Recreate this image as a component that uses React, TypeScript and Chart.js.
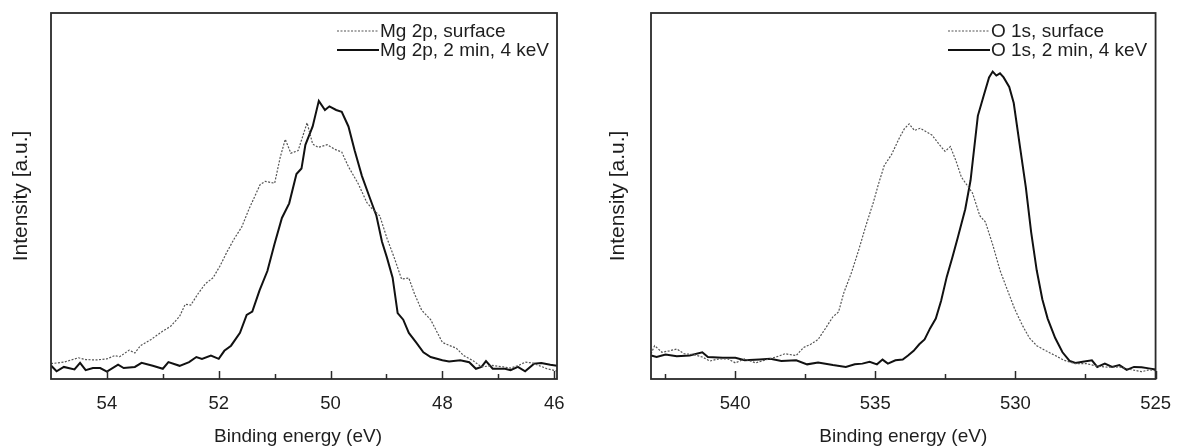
import React, { useEffect, useRef } from "react";
import { Chart, registerables } from "chart.js";

Chart.register(...registerables);

// ---------- Data: Mg 2p (left panel) ----------
const MG_SOLID_E = [55.0, 54.9, 54.77, 54.58, 54.48, 54.38, 54.25, 54.12, 54.0, 53.8, 53.7, 53.5, 53.38, 53.18, 53.0, 52.9, 52.7, 52.53, 52.4, 52.3, 52.14, 52.0, 51.9, 51.78, 51.62, 51.5, 51.4, 51.27, 51.13, 51.0, 50.87, 50.74, 50.61, 50.52, 50.45, 50.32, 50.21, 50.1, 50.02, 49.9, 49.8, 49.68, 49.57, 49.44, 49.31, 49.18, 49.08, 48.99, 48.89, 48.8, 48.7, 48.6, 48.47, 48.34, 48.21, 48.0, 47.88, 47.68, 47.52, 47.4, 47.3, 47.22, 47.1, 46.88, 46.78, 46.65, 46.52, 46.36, 46.23, 46.07, 45.95];
const MG_SOLID = [3.7, 2.1, 3.3, 2.6, 4.4, 2.4, 3.0, 3.0, 2.0, 3.9, 3.0, 3.3, 4.4, 3.6, 2.8, 4.6, 3.6, 4.6, 6.0, 5.5, 6.4, 5.5, 7.7, 9.1, 12.6, 17.5, 18.4, 24.2, 29.5, 37.0, 44.0, 48.0, 56.0, 57.5, 64.0, 69.0, 76.0, 73.5, 74.5, 73.5, 73.0, 69.0, 62.5, 55.5, 50.0, 44.6, 37.5, 33.1, 27.7, 18.0, 16.2, 12.6, 10.0, 7.3, 6.0, 5.1, 4.8, 5.1, 4.6, 2.8, 3.3, 4.9, 2.8, 2.8, 2.4, 3.3, 2.1, 4.2, 4.4, 3.9, 3.6];

const MG_SURF_E = [55.0, 54.77, 54.51, 54.38, 54.19, 54.0, 53.86, 53.77, 53.6, 53.5, 53.4, 53.21, 53.0, 52.86, 52.7, 52.6, 52.5, 52.37, 52.24, 52.1, 51.98, 51.85, 51.72, 51.59, 51.46, 51.26, 51.17, 51.0, 50.9, 50.81, 50.71, 50.58, 50.42, 50.32, 50.22, 50.06, 49.93, 49.8, 49.68, 49.51, 49.35, 49.25, 49.12, 48.99, 48.86, 48.73, 48.6, 48.5, 48.37, 48.21, 48.0, 47.88, 47.75, 47.62, 47.46, 47.3, 47.1, 46.91, 46.78, 46.65, 46.52, 46.39, 46.26, 46.13, 45.95];
const MG_SURF = [4.2, 4.6, 5.8, 5.3, 5.2, 5.5, 6.4, 6.1, 7.9, 7.1, 9.1, 10.8, 13.1, 14.4, 17.1, 20.4, 20.2, 23.3, 26.0, 27.7, 30.8, 34.8, 38.4, 41.5, 46.4, 53.1, 54.0, 53.5, 60.6, 65.5, 61.7, 62.4, 70.0, 64.2, 63.3, 64.0, 62.8, 62.0, 58.0, 53.5, 48.2, 46.4, 44.6, 38.4, 33.1, 27.3, 27.6, 23.3, 18.8, 16.2, 10.0, 9.2, 8.4, 6.4, 5.1, 3.3, 3.7, 3.3, 3.0, 3.6, 4.6, 4.4, 3.6, 2.8, 2.2];

// ---------- Data: O 1s (right panel) ----------
const O_SOLID_E = [543.0, 542.8, 542.48, 542.08, 541.62, 541.17, 540.97, 540.44, 539.99, 539.66, 539.13, 538.74, 538.35, 537.82, 537.43, 537.04, 536.51, 536.05, 535.73, 535.46, 535.2, 534.94, 534.74, 534.55, 534.28, 534.02, 533.83, 533.63, 533.43, 533.24, 533.04, 532.84, 532.65, 532.45, 532.25, 532.06, 531.79, 531.6, 531.34, 531.14, 530.94, 530.81, 530.68, 530.55, 530.42, 530.22, 530.06, 529.83, 529.63, 529.44, 529.24, 529.04, 528.85, 528.58, 528.32, 528.06, 527.86, 527.6, 527.27, 527.08, 526.81, 526.55, 526.29, 526.03, 525.77, 525.5, 525.24, 525.0];
const O_SOLID = [6.4, 6.0, 6.7, 6.2, 6.4, 7.3, 6.0, 5.8, 5.8, 5.1, 5.3, 5.5, 4.9, 5.1, 4.0, 4.5, 3.8, 3.3, 4.0, 4.2, 4.7, 4.0, 5.3, 4.2, 5.1, 5.3, 6.4, 7.7, 9.5, 10.8, 13.9, 16.5, 21.4, 27.9, 33.2, 38.5, 46.4, 54.3, 71.9, 77.2, 82.4, 84.0, 82.9, 83.5, 82.4, 79.8, 75.4, 63.1, 52.5, 40.2, 29.7, 21.8, 16.5, 11.2, 7.3, 4.9, 4.4, 4.7, 5.1, 3.3, 4.2, 3.3, 3.8, 2.5, 3.3, 3.2, 2.9, 2.6];

const O_SURF_E = [543.0, 542.87, 542.61, 542.34, 542.08, 541.82, 541.49, 541.17, 540.9, 540.58, 540.25, 539.99, 539.66, 539.27, 538.87, 538.54, 538.22, 537.82, 537.56, 537.3, 537.04, 536.77, 536.51, 536.31, 536.12, 535.86, 535.6, 535.33, 535.07, 534.88, 534.68, 534.42, 534.15, 533.96, 533.79, 533.6, 533.4, 533.17, 532.97, 532.71, 532.51, 532.32, 532.12, 531.93, 531.73, 531.53, 531.27, 531.07, 530.81, 530.55, 530.29, 530.03, 529.76, 529.5, 529.24, 528.91, 528.58, 528.26, 527.86, 527.47, 527.08, 526.68, 526.29, 525.9, 525.5, 525.24, 525.0];
const O_SURF = [6.9, 9.1, 7.3, 7.7, 8.2, 6.9, 6.7, 6.0, 4.9, 5.5, 5.5, 4.4, 5.5, 4.4, 5.3, 6.0, 6.9, 6.4, 8.6, 9.5, 10.8, 13.9, 17.0, 18.3, 23.6, 28.8, 35.0, 42.0, 48.2, 53.4, 58.3, 61.3, 65.7, 68.4, 69.7, 67.9, 68.5, 67.5, 66.6, 64.0, 62.2, 63.5, 59.6, 55.2, 53.0, 50.8, 44.6, 42.9, 36.7, 29.7, 24.4, 19.2, 14.8, 11.2, 9.1, 7.7, 6.4, 5.1, 4.2, 4.2, 3.5, 3.2, 3.3, 2.6, 2.0, 2.5, 2.3];

// ---------- Axes / labels ----------
const MG_MAJOR_TICKS = [54, 52, 50, 48, 46];
const MG_MINOR_TICKS = [53, 51, 49, 47];
const O_MAJOR_TICKS = [540, 535, 530, 525];
const O_MINOR_TICKS = [542.5, 537.5, 532.5, 527.5];
const MG_LEGEND = ["Mg 2p, surface", "Mg 2p, 2 min, 4 keV"];
const O_LEGEND = ["O 1s, surface", "O 1s, 2 min, 4 keV"];
const X_TITLE = "Binding energy (eV)";
const Y_TITLE = "Intensity [a.u.]";

const FONT = "'Liberation Sans', Arial, sans-serif";
const TEXT = "#1e1e1e";

type PanelCfg = {
  left: number;
  width: number;
  xMin: number;
  xMax: number;
  major: number[];
  minor: number[];
  legend: string[];
  surfE: number[];
  surf: number[];
  solidE: number[];
  solid: number[];
  padRight: number;
  yTitlePad: { top: number; bottom: number };
  legendX: number;
  xTitleShift: number;
};

const PANELS: PanelCfg[] = [
  {
    left: 0, width: 590, xMin: 45.95, xMax: 55.0,
    major: MG_MAJOR_TICKS, minor: MG_MINOR_TICKS, legend: MG_LEGEND,
    surfE: MG_SURF_E, surf: MG_SURF, solidE: MG_SOLID_E, solid: MG_SOLID,
    padRight: 33, yTitlePad: { top: 8.4, bottom: 9.4 }, legendX: 337, xTitleShift: -6,
  },
  {
    left: 590, width: 587, xMin: 525, xMax: 543,
    major: O_MAJOR_TICKS, minor: O_MINOR_TICKS, legend: O_LEGEND,
    surfE: O_SURF_E, surf: O_SURF, solidE: O_SOLID_E, solid: O_SOLID,
    padRight: 18, yTitlePad: { top: 15.4, bottom: 12.4 }, legendX: 948, xTitleShift: 0,
  },
];

function toPoints(xs: number[], ys: number[]) {
  return xs.map((x, i) => ({ x, y: ys[i] }));
}

function Panel({ cfg }: { cfg: PanelCfg }) {
  const ref = useRef<HTMLCanvasElement>(null);

  useEffect(() => {
    const canvas = ref.current;
    if (!canvas) return;

    const decor = {
      id: "decor",
      afterDraw(chart: any) {
        const { ctx, chartArea: a } = chart;
        const xs = chart.scales.x;
        ctx.save();
        // frame
        ctx.strokeStyle = "#2a2a2a";
        ctx.lineWidth = 1.8;
        ctx.strokeRect(a.left, a.top, a.right - a.left, a.bottom - a.top);
        // inward ticks
        ctx.lineWidth = 1.5;
        const drawTick = (v: number, len: number) => {
          const px = Math.round(xs.getPixelForValue(v)) + 0.5;
          ctx.beginPath();
          ctx.moveTo(px, a.bottom);
          ctx.lineTo(px, a.bottom - len);
          ctx.stroke();
        };
        cfg.major.forEach((v) => drawTick(v, 8));
        cfg.minor.forEach((v) => drawTick(v, 5));
        // x-axis title
        ctx.font = `19px ${FONT}`;
        ctx.fillStyle = TEXT;
        ctx.textAlign = "center";
        ctx.textBaseline = "middle";
        ctx.fillText(X_TITLE, (a.left + a.right) / 2 + cfg.xTitleShift, 437);
        // legend
        const lx = cfg.legendX - cfg.left;
        const rows = [
          { y: 31, dash: [2, 1.5], width: 1.2, color: "#555" },
          { y: 50, dash: [], width: 2, color: "#111" },
        ];
        ctx.font = `19px ${FONT}`;
        ctx.textAlign = "left";
        rows.forEach((r, i) => {
          ctx.strokeStyle = r.color;
          ctx.lineWidth = r.width;
          ctx.setLineDash(r.dash);
          ctx.beginPath();
          ctx.moveTo(lx, r.y);
          ctx.lineTo(lx + 42, r.y);
          ctx.stroke();
          ctx.setLineDash([]);
          ctx.fillStyle = TEXT;
          ctx.fillText(cfg.legend[i], lx + 43, r.y + 1);
        });
        ctx.restore();
      },
    };

    const chart = new Chart(canvas, {
      type: "line",
      data: {
        datasets: [
          {
            label: cfg.legend[0],
            data: toPoints(cfg.surfE, cfg.surf),
            borderColor: "#555",
            borderWidth: 1.2,
            borderDash: [2, 1.5],
            pointRadius: 0,
            tension: 0,
            fill: false,
          },
          {
            label: cfg.legend[1],
            data: toPoints(cfg.solidE, cfg.solid),
            borderColor: "#111",
            borderWidth: 2,
            pointRadius: 0,
            tension: 0,
            fill: false,
          },
        ],
      },
      options: {
        animation: false,
        responsive: false,
        layout: { padding: { left: 0, right: cfg.padRight, top: 13, bottom: 26.8 } },
        plugins: {
          legend: { display: false },
          tooltip: { enabled: false },
        },
        scales: {
          x: {
            type: "linear",
            reverse: true,
            min: cfg.xMin,
            max: cfg.xMax,
            grid: { display: false },
            border: { display: false },
            afterBuildTicks: (scale: any) => {
              scale.ticks = cfg.major.map((v) => ({ value: v }));
            },
            ticks: {
              color: TEXT,
              font: { family: FONT, size: 18.5 },
              padding: 6,
              maxRotation: 0,
              autoSkip: false,
              callback: (v: any) => String(v),
            },
            title: { display: false },
          },
          y: {
            type: "linear",
            min: 0,
            max: 100,
            grid: { display: false },
            border: { display: false },
            ticks: { display: false },
            title: {
              display: true,
              text: Y_TITLE,
              color: TEXT,
              font: { family: FONT, size: 21 },
              padding: cfg.yTitlePad,
            },
          },
        },
      },
      plugins: [decor],
    });

    return () => chart.destroy();
  }, [cfg]);

  return (
    <canvas
      ref={ref}
      width={cfg.width}
      height={448}
      style={{ position: "absolute", left: cfg.left, top: 0, width: cfg.width, height: 448 }}
    />
  );
}

export default function App() {
  return (
    <div
      style={{
        position: "fixed",
        left: 0,
        top: 0,
        width: 1177,
        height: 448,
        background: "#fff",
        overflow: "hidden",
      }}
    >
      {PANELS.map((p, i) => (
        <Panel key={i} cfg={p} />
      ))}
    </div>
  );
}
